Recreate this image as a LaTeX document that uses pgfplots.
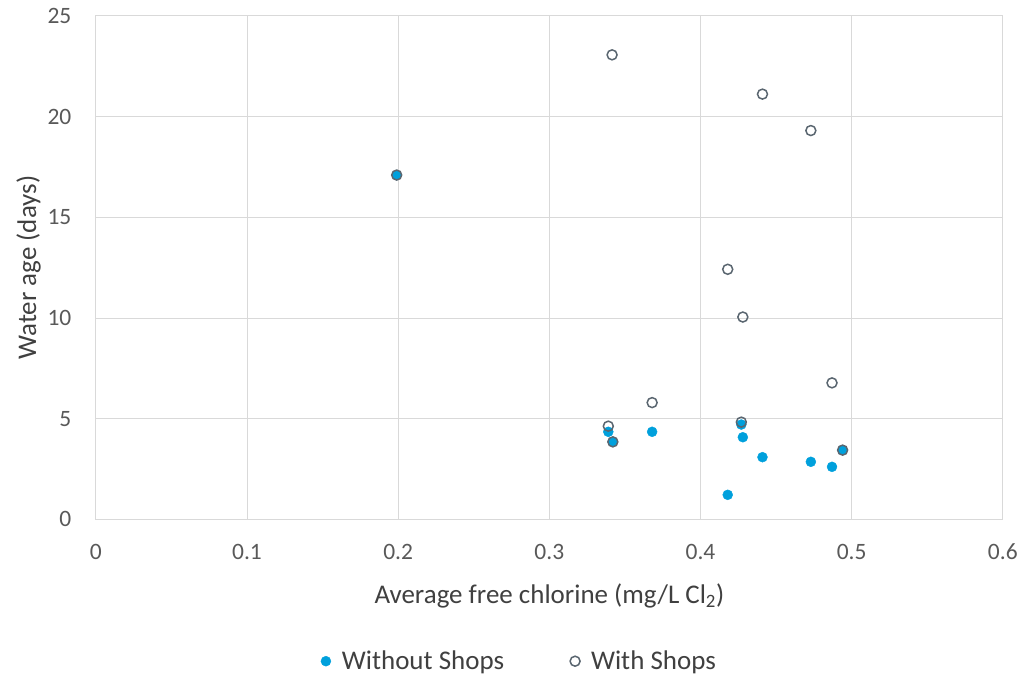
\documentclass[border=0pt]{standalone}
\usepackage{pgfplots}
\pgfplotsset{compat=1.18}
\usepackage{fontspec}
\setmainfont{Carlito}

\definecolor{shopblue}{HTML}{00A0DC}
\definecolor{ringgray}{HTML}{5A6670}
\definecolor{gridgray}{HTML}{D9D9D9}
\definecolor{ticktext}{HTML}{595959}
\definecolor{labeltext}{HTML}{404040}

\begin{document}
\begin{tikzpicture}
\begin{axis}[
  name=ax,
  scale only axis,
  width=908pt, height=504pt,
  xmin=0, xmax=0.6, ymin=0, ymax=25,
  xtick={0,0.1,0.2,0.3,0.4,0.5,0.6},
  xticklabels={0,0.1,0.2,0.3,0.4,0.5,0.6},
  ytick={0,5,10,15,20,25},
  grid=major,
  major grid style={draw=gridgray, line width=1pt},
  axis line style={draw=gridgray, line width=1pt},
  major tick length=0pt,
  /pgf/number format/assume math mode=true,
  tick label style={font=\fontsize{23.5}{28}\selectfont, text=ticktext},
  xticklabel style={yshift=-21pt},
  yticklabel style={xshift=-21pt},
  xlabel={Average free chlorine (mg/L Cl\textsubscript{2})},
  ylabel={Water age (days)},
  label style={font=\fontsize{27}{32}\selectfont, text=labeltext},
  xlabel style={yshift=-17pt},
  ylabel style={yshift=0pt},
  legend columns=2,
  legend style={
    at={(0.467,-0.2817)}, anchor=center,
    draw=none, fill=none,
    font=\fontsize{27}{32}\selectfont, text=labeltext,
    /tikz/every even column/.append style={column sep=64pt},
  },
  legend image code/.code={%
    \path[draw=none, fill=none] (-5pt,0pt) -- (14pt,0pt);
    \path[#1] plot coordinates {(0pt,0pt)};},
]
% Without Shops: filled blue dots
\addplot[only marks, mark=*, mark size=5pt,
  mark options={fill=shopblue, draw=shopblue, line width=0.4pt}]
  coordinates {
    (0.199,17.10) (0.339,4.35) (0.342,3.85) (0.368,4.35) (0.418,1.22)
    (0.427,4.71) (0.428,4.08) (0.441,3.09) (0.473,2.86) (0.487,2.61)
    (0.494,3.44)
  };
\addlegendentry{Without Shops}
% With Shops: open grey rings drawn over the dots
\addplot[only marks, mark=o, mark size=5pt,
  mark options={draw=ringgray, line width=1.5pt}]
  coordinates {
    (0.199,17.10) (0.339,4.63) (0.342,3.85) (0.3415,23.07) (0.368,5.80)
    (0.418,12.42) (0.427,4.83) (0.428,10.05) (0.441,21.12) (0.473,19.31)
    (0.487,6.78) (0.494,3.44)
  };
\addlegendentry{With Shops}
\end{axis}
% page frame around the plot area and its labels
\path ([shift={(-96pt,-156pt)}]ax.south west) rectangle ([shift={(17pt,16pt)}]ax.north east);
\end{tikzpicture}
\end{document}
